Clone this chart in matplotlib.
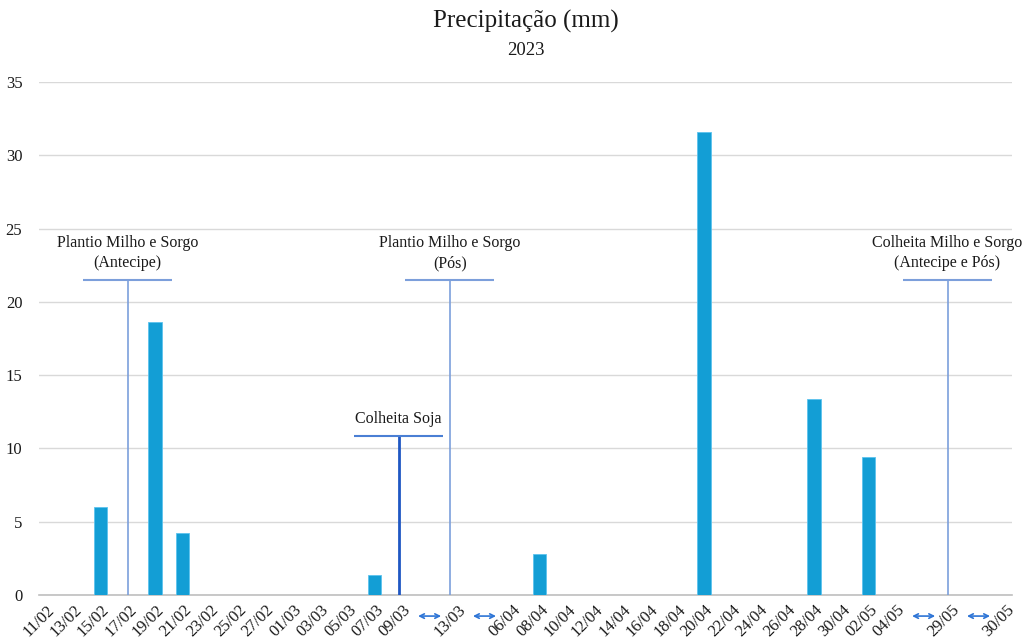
import matplotlib.pyplot as plt
import matplotlib.transforms as mtransforms

plt.rcParams['font.family'] = ['Liberation Serif', 'DejaVu Serif']

# categorias do eixo x ("⟷" marca intervalo omitido)
datas = ['11/02', '13/02', '15/02', '17/02', '19/02', '21/02', '23/02', '25/02',
         '27/02', '01/03', '03/03', '05/03', '07/03', '09/03', '⟷', '13/03', '⟷',
         '06/04', '08/04', '10/04', '12/04', '14/04', '16/04', '18/04', '20/04',
         '22/04', '24/04', '26/04', '28/04', '30/04', '02/05', '04/05', '⟷',
         '29/05', '⟷', '30/05']
chuva = [0, 0, 6.0, 0, 18.6, 4.2, 0, 0,
         0, 0, 0, 0, 1.4, 0, 0, 0, 0,
         0, 2.8, 0, 0, 0, 0, 0, 31.6,
         0, 0, 0, 13.4, 0, 9.4, 0, 0,
         0, 0, 0]

# eventos de manejo
eventos = ['Plantio Milho e Sorgo\n(Antecipe)', 'Colheita Soja',
           'Plantio Milho e Sorgo\n(Pós)', 'Colheita Milho e Sorgo\n(Antecipe e Pós)']
eventos_x = [3, 12.87, 14.74, 32.87]
eventos_y = [21.5, 10.87, 21.5, 21.5]

fig = plt.figure(figsize=(10.27, 6.43), dpi=100)
ax = fig.add_axes([0.038, 0.0746, 0.9474, 0.7979])

x = list(range(len(datas)))
ax.bar(x, chuva, width=0.49, color='#139ED5', edgecolor='#5CC3EE', linewidth=0.6, zorder=3)

ax.set_xlim(-0.23, 35.22)
ax.set_ylim(0, 35)
ax.set_yticks(range(0, 36, 5))
ax.yaxis.grid(True, color='#D9D9D9', linewidth=1)
ax.set_axisbelow(True)
for s in ['top', 'right', 'left']:
    ax.spines[s].set_visible(False)
ax.spines['bottom'].set_color('#BFBFBF')
ax.spines['bottom'].set_linewidth(1.2)
ax.tick_params(axis='both', length=0, labelsize=12, colors='#1a1a1a')
ax.tick_params(axis='y', pad=12)
ax.tick_params(axis='x', pad=9)

ax.set_xticks(x)
ax.set_xticklabels(['' if d == '⟷' else d for d in datas], rotation=45,
                   ha='right', va='center', rotation_mode='anchor')
off = mtransforms.ScaledTranslation(0.065, 0, fig.dpi_scale_trans)
for lab in ax.get_xticklabels():
    lab.set_transform(lab.get_transform() + off)

# setas nos intervalos omitidos
trans = mtransforms.blended_transform_factory(ax.transData, ax.transAxes)
for i, d in enumerate(datas):
    if d == '⟷':
        ax.annotate('', xy=(i + 0.42, -0.041), xytext=(i - 0.42, -0.041),
                    xycoords=trans, textcoords=trans, annotation_clip=False,
                    arrowprops=dict(arrowstyle='<->', color='#2E75D6', lw=1.2,
                                    shrinkA=0, shrinkB=0, mutation_scale=8))

# linhas dos eventos
for txt, ex, ey in zip(eventos, eventos_x, eventos_y):
    if txt == 'Colheita Soja':
        ax.vlines(ex, 0, ey, color='#1F57C3', linewidth=2, zorder=4)
        ax.hlines(ey, ex - 1.62, ex + 1.62, color='#4A7FD4', linewidth=1.5, zorder=4)
    else:
        ax.vlines(ex, 0, ey, color='#7C9FDB', linewidth=1.2, zorder=4)
        ax.hlines(ey, ex - 1.62, ex + 1.62, color='#7C9FDB', linewidth=1.5, zorder=4)
    ax.text(ex, ey + 0.6, txt, ha='center', va='bottom', fontsize=11.5,
            color='#1a1a1a', linespacing=1.35)

fig.text(0.512, 0.9565, 'Precipitação (mm)', ha='center', va='baseline',
         fontsize=18, color='#1a1a1a')
fig.text(0.512, 0.9145, '2023', ha='center', va='baseline', fontsize=13.5,
         color='#1a1a1a')

fig.savefig('out.png', dpi=100)
